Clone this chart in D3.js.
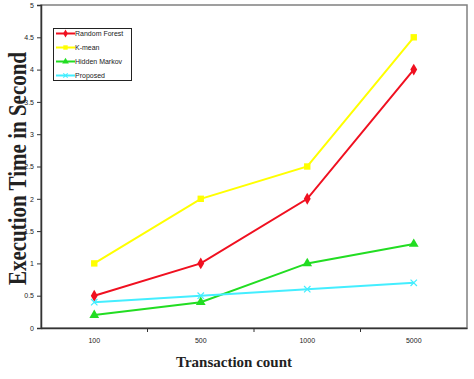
<!DOCTYPE html>
<html><head><meta charset="utf-8">
<script src="https://cdn.jsdelivr.net/npm/d3@7"></script>
<style>body{margin:0;background:#fff}</style>
</head><body><svg id="c" width="474" height="379"></svg>
<script>
const categories = ["100","500","1000","5000"];
const randomForest = [0.5, 1, 2, 4];
const kMean = [1, 2, 2.5, 4.5];
const hiddenMarkov = [0.2, 0.4, 1, 1.3];
const proposed = [0.4, 0.5, 0.6, 0.7];
const yTicks = [0, 0.5, 1, 1.5, 2, 2.5, 3, 3.5, 4, 4.5, 5];
const seriesNames = ["Random Forest", "K-mean", "Hidden Markov", "Proposed"];

const series = [
  {name: seriesNames[0], values: randomForest, color: "#f01020", sym: d3.symbolDiamond},
  {name: seriesNames[1], values: kMean, color: "#ffff00", sym: d3.symbolSquare},
  {name: seriesNames[2], values: hiddenMarkov, color: "#22dd22", sym: d3.symbolTriangle},
  {name: seriesNames[3], values: proposed, color: "#44eeff", sym: "x"}
];

const svg = d3.select("#c");
const L = 41, R = 467, T = 5, B = 328;
const x = d3.scaleBand().domain(categories).range([L, R]);
const y = d3.scaleLinear().domain([0, 5]).range([B, T]);

// frame
svg.append("rect").attr("x", L).attr("y", T).attr("width", R - L).attr("height", B - T)
  .attr("fill", "none").attr("stroke", "#808080").attr("stroke-width", 1.5);

// y axis
const ya = svg.append("g").attr("transform", `translate(${L},0)`)
  .call(d3.axisLeft(y).tickValues(yTicks).tickSize(4).tickPadding(3).tickFormat(d => String(d)));
ya.select(".domain").attr("stroke", "#333").attr("stroke-width", 1.5);
ya.selectAll(".tick line").attr("stroke", "#333");
ya.selectAll("text").attr("font-family", "Liberation Sans, Arial").attr("font-size", 7).attr("fill", "#222");

// x axis
const xa = svg.append("g").attr("transform", `translate(0,${B})`)
  .call(d3.axisBottom(x).tickSize(0).tickPadding(10));
xa.select(".domain").attr("stroke", "#333").attr("stroke-width", 1.5);
xa.selectAll("text").attr("font-family", "Liberation Sans, Arial").attr("font-size", 7).attr("fill", "#222");
xa.selectAll(".sep").data(categories.slice(1)).enter().append("line")
  .attr("x1", d => x(d)).attr("x2", d => x(d)).attr("y1", 0).attr("y2", 4)
  .attr("stroke", "#333");

const cx = d => x(d) + x.bandwidth() / 2;

function marker(g, s, px, py, size) {
  if (s.sym === "x") {
    const r = size;
    g.append("path").attr("d", `M${px-r},${py-r}L${px+r},${py+r}M${px-r},${py+r}L${px+r},${py-r}`)
      .attr("stroke", s.color).attr("stroke-width", 1.2);
  } else {
    g.append("path").attr("d", d3.symbol().type(s.sym).size(size * size * 4)())
      .attr("transform", `translate(${px},${py})`).attr("fill", s.color);
  }
}

const line = d3.line().x((d, i) => cx(categories[i])).y(d => y(d));
series.forEach(s => {
  const g = svg.append("g");
  g.append("path").datum(s.values).attr("d", line).attr("fill", "none")
    .attr("stroke", s.color).attr("stroke-width", 2);
  s.values.forEach((v, i) => marker(g, s, cx(categories[i]), y(v), 3.2));
});

// legend
const lg = svg.append("g");
lg.append("rect").attr("x", 53.5).attr("y", 28.5).attr("width", 78).attr("height", 52)
  .attr("fill", "#fff").attr("stroke", "#222").attr("stroke-width", 1);
series.forEach((s, i) => {
  const yy = 33.5 + i * 14;
  lg.append("line").attr("x1", 56).attr("x2", 75).attr("y1", yy).attr("y2", yy)
    .attr("stroke", s.color).attr("stroke-width", 2);
  marker(lg, s, 65.5, yy, 2.2);
  lg.append("text").attr("x", 75).attr("y", yy + 2.5).text(s.name)
    .attr("font-family", "Liberation Sans, Arial").attr("font-size", 7).attr("fill", "#222");
});

// axis titles
svg.append("text").attr("transform", `translate(26,${(T + B) / 2 + 2}) rotate(-90) scale(1,1.2)`)
  .attr("text-anchor", "middle").attr("font-family", "Liberation Serif, Times New Roman")
  .attr("font-weight", "bold").attr("font-size", 21).attr("fill", "#222")
  .text("Execution Time in Second");
svg.append("text").attr("x", 234).attr("y", 367)
  .attr("text-anchor", "middle").attr("font-family", "Liberation Serif, Times New Roman")
  .attr("font-weight", "bold").attr("font-size", 15).attr("fill", "#222")
  .text("Transaction count");
</script></body></html>
